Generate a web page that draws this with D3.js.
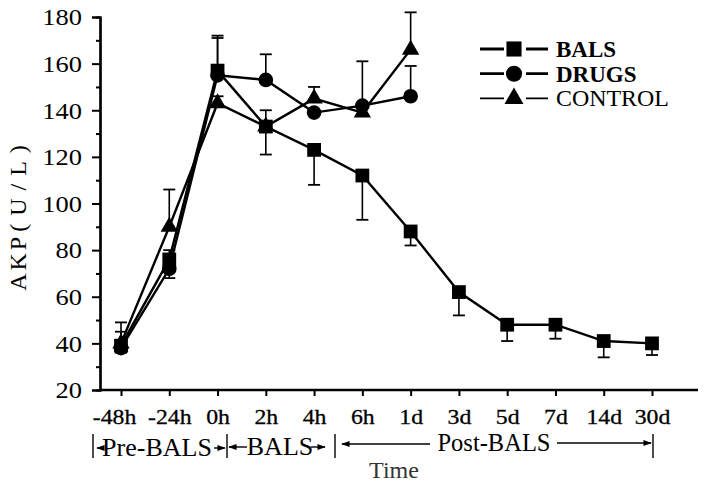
<!DOCTYPE html>
<html>
<head>
<meta charset="utf-8">
<script src="https://cdn.jsdelivr.net/npm/d3@7"></script>
<style>
  body { margin: 0; background: #fff; }
  svg { display: block; }
</style>
</head>
<body>
<svg id="chart"></svg>
<script>
// time points (ordinal)
const times = ["-48h", "-24h", "0h", "2h", "4h", "6h", "1d", "3d", "5d", "7d", "14d", "30d"];
const yTicks = [20, 40, 60, 80, 100, 120, 140, 160, 180];

// AKP (U/L)
const balsVals = [39, 76, 157, 133, 123, 112, 88, 62, 48, 48, 41, 40];
const drugsVals = [38, 72, 155, 153, 139, 142, 146];
const controlVals = [40, 90, 143, 133, 145, 139, 166];

// error bar ends (value at tip of the bar)
const balsErr = [36, 80, 171, 121, 108, 93, 82, 52, 41, 42, 34, 35];
const drugsErr = [45, 68, 172, 164, 139, 161, 159];
const controlErr = [49, 106, 146, 140, 150, 142, 182];

const legendNames = ["BALS", "DRUGS", "CONTROL"];
const phaseNames = ["Pre-BALS", "BALS", "Post-BALS"];

const W = 705, H = 491;
const style = {
    font: "'Liberation Serif', 'DejaVu Serif', serif",
    line: { stroke: "#000", width: 2.4 },
    margin: { left: 100, right: 7, top: 17, bottom: 101 }
};

// stretch text a little, the scanned type is wide
const widen = (sel, k) => sel.each(function () {
    const w = this.getComputedTextLength();
    d3.select(this).attr("textLength", w * k).attr("lengthAdjust", "spacingAndGlyphs");
});

const svg = d3.select("#chart")
    .attr("width", W)
    .attr("height", H)
    .attr("viewBox", [0, 0, W, H]);

const x = d3.scalePoint()
    .domain(times)
    .range([121, 652]);

const y = d3.scaleLinear()
    .domain([20, 180])
    .range([H - style.margin.bottom, style.margin.top]);

// y axis
const yAxis = svg.append("g")
    .attr("transform", `translate(${style.margin.left},0)`)
    .call(d3.axisLeft(y).tickValues(yTicks).tickSize(8).tickPadding(10));
yAxis.append("g")
    .call(d3.axisLeft(y).tickValues(d3.range(30, 180, 20)).tickSize(4).tickFormat(""));
yAxis.selectAll(".domain").attr("stroke-width", 2.2);
yAxis.selectAll("line").attr("stroke-width", 2);
yAxis.selectAll("text")
    .style("font", `23px ${style.font}`)
    .attr("fill", "#000")
    .attr("dy", "0.34em")
    .call(widen, 1.15);

// x axis
const xAxis = svg.append("g")
    .attr("transform", `translate(0,${y(20)})`)
    .call(d3.axisBottom(x).tickSize(6).tickPadding(8));
xAxis.select(".domain")
    .attr("d", `M${style.margin.left},0H${W - style.margin.right}`)
    .attr("stroke-width", 2.6);
xAxis.selectAll("line").attr("stroke-width", 2);
xAxis.selectAll("text")
    .style("font", `22px ${style.font}`)
    .attr("fill", "#000")
    .attr("stroke", "#000")
    .attr("stroke-width", 0.3)
    .attr("y", 0)
    .attr("dy", 34)
    .attr("dx", d => d === "-48h" ? -7 : 0)
    .call(widen, 1.08);

// y label: tight "AKP", loose "(U/L)"
const yLab = svg.append("text")
    .attr("transform", "translate(26,214) rotate(-90)")
    .attr("text-anchor", "middle")
    .attr("fill", "#000")
    .style("opacity", 0.99)
    .style("font", `24px ${style.font}`);
yLab.append("tspan").style("letter-spacing", "3px").text("AKP");
yLab.append("tspan").attr("dx", 2).style("letter-spacing", "8px").text("(U/L)");

// phase brackets under the x axis
const bars = [93, 227, 335, 653];
bars.forEach(bx => {
    svg.append("line")
        .attr("x1", bx).attr("x2", bx)
        .attr("y1", 434).attr("y2", 458)
        .attr("stroke", "#000").attr("stroke-width", 1.4);
});

const defs = svg.append("defs");
defs.append("marker")
    .attr("id", "arrow")
    .attr("viewBox", "0 0 10 10")
    .attr("refX", 9).attr("refY", 5)
    .attr("markerWidth", 6).attr("markerHeight", 6)
    .attr("orient", "auto-start-reverse")
    .append("path")
    .attr("d", "M0,1.5L10,5L0,8.5Z")
    .attr("fill", "#000");

const arrowLine = (x1, x2, yy, start, end) => svg.append("line")
    .attr("x1", x1).attr("x2", x2)
    .attr("y1", yy).attr("y2", yy)
    .attr("stroke", "#000").attr("stroke-width", 1.4)
    .attr("marker-start", start ? "url(#arrow)" : null)
    .attr("marker-end", end ? "url(#arrow)" : null);

const phaseLabel = (cx, yy, size, t) => svg.append("text")
    .attr("x", cx).attr("y", yy)
    .attr("text-anchor", "middle")
    .attr("fill", "#000")
    .style("font", `${size}px ${style.font}`)
    .text(t);

arrowLine(97, 104, 448, true, false);
phaseLabel(157, 456, 26, phaseNames[0]);
arrowLine(214, 225, 448, false, true);
arrowLine(229, 247, 447, true, false);
phaseLabel(280, 455, 26, phaseNames[1]);
arrowLine(311, 325, 447, false, true);
arrowLine(342, 430, 444, true, false);
phaseLabel(494, 451, 24.5, phaseNames[2]);
arrowLine(557, 651, 443, false, true);

svg.append("text")
    .attr("x", 394).attr("y", 478)
    .attr("text-anchor", "middle")
    .attr("fill", "#333")
    .style("font", `24px ${style.font}`)
    .text("Time");

// series
const series = [
    { name: "BALS", vals: balsVals, err: balsErr, shape: d3.symbolSquare, size: 190 },
    { name: "DRUGS", vals: drugsVals, err: drugsErr, shape: d3.symbolCircle, size: 170 },
    { name: "CONTROL", vals: controlVals, err: controlErr, shape: d3.symbolTriangle, size: 130 }
];

const line = d3.line()
    .x((d, i) => x(times[i]))
    .y(d => y(d));

const plot = svg.append("g");

series.forEach(s => {
    const g = plot.append("g");
    // error bars
    s.err.forEach((e, i) => {
        const cx = x(times[i]);
        g.append("line")
            .attr("x1", cx).attr("x2", cx)
            .attr("y1", y(s.vals[i])).attr("y2", y(e))
            .attr("stroke", "#000").attr("stroke-width", 1.6);
        g.append("line")
            .attr("x1", cx - 6).attr("x2", cx + 6)
            .attr("y1", y(e)).attr("y2", y(e))
            .attr("stroke", "#000").attr("stroke-width", 1.8);
    });
    g.append("path")
        .datum(s.vals)
        .attr("d", line)
        .attr("fill", "none")
        .attr("stroke", style.line.stroke)
        .attr("stroke-width", style.line.width);
    g.selectAll("path.pt")
        .data(s.vals)
        .join("path")
        .attr("class", "pt")
        .attr("transform", (d, i) => `translate(${x(times[i])},${y(d)})`)
        .attr("d", d3.symbol().type(s.shape).size(s.size))
        .attr("fill", "#000");
});

// legend
const legend = svg.append("g").attr("transform", "translate(480,49)");
series.forEach((s, i) => {
    const row = legend.append("g").attr("transform", `translate(0,${i * 24.7})`);
    row.append("line")
        .attr("x1", 0).attr("x2", 68)
        .attr("stroke", "#000")
        .attr("stroke-width", i === 2 ? 1.8 : 2.8);
    row.append("rect")
        .attr("x", 24).attr("y", -9).attr("width", 22).attr("height", 18)
        .attr("fill", "#fff");
    row.append("path")
        .attr("transform", "translate(34,0)")
        .attr("d", d3.symbol().type(s.shape).size(s.size * 1.2))
        .attr("fill", "#000");
    row.append("text")
        .attr("x", 76).attr("y", 8)
        .attr("fill", "#000")
        .style("font", `${i === 2 ? "" : "bold "}23px ${style.font}`)
        .text(legendNames[i])
        .call(widen, i === 2 ? 1.04 : 1.0);
});
</script>
</body>
</html>
